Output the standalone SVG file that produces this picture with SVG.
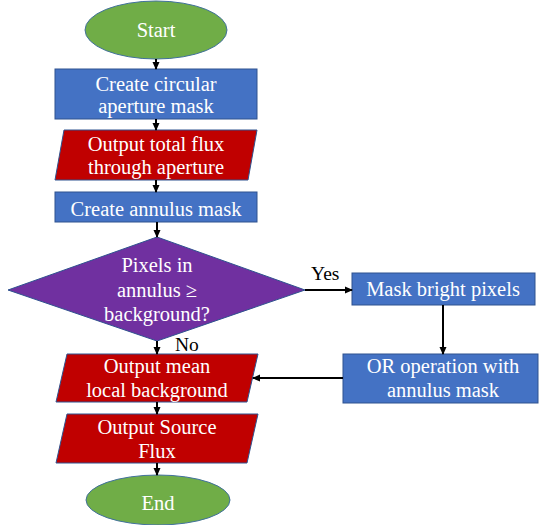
<svg xmlns="http://www.w3.org/2000/svg" width="539" height="525" viewBox="0 0 539 525">
<defs>
<marker id="ah" markerWidth="8" markerHeight="8" refX="7" refY="4" orient="auto" markerUnits="userSpaceOnUse">
<path d="M0,0.5 L8,4 L0,7.5 z" fill="#000"/>
</marker>
<style>
text{font-family:'Liberation Serif','Times New Roman',serif}
.t{fill:#fff;text-anchor:middle;font-size:20.5px}
.k{fill:#000;font-size:19.5px}
.g{fill:#70AD47;stroke:#41719C;stroke-width:1}
.b{fill:#4472C4;stroke:#2F528F;stroke-width:1}
.r{fill:#C00000;stroke:#2F528F;stroke-width:1}
.p{fill:#7030A0;stroke:#2F528F;stroke-width:1}
.c{stroke:#000;stroke-width:2;fill:none;marker-end:url(#ah)}
</style>
</defs>
<g id="start"><ellipse class="g" cx="156" cy="30" rx="71" ry="29"/><text class="t" x="156" y="37">Start</text></g>
<g id="circmask"><rect class="b" x="55" y="69" width="202" height="50"/><text class="t" x="156" y="91">Create circular</text><text class="t" x="156" y="113">aperture mask</text></g>
<g id="totalflux"><polygon class="r" points="64,130 257,130 248,180 55,180"/><text class="t" x="156" y="151">Output total flux</text><text class="t" x="156" y="174">through aperture</text></g>
<g id="annmask"><rect class="b" x="55" y="192" width="202" height="30"/><text class="t" x="156" y="216">Create annulus mask</text></g>
<g id="decision"><polygon class="p" points="157,237 305,290 157,341 8,290"/><text class="t" x="157" y="272">Pixels in</text><text class="t" x="157" y="297">annulus ≥</text><text class="t" x="157" y="321">background?</text></g>
<g id="bright"><rect class="b" x="352" y="273" width="183" height="32"/><text class="t" x="443" y="296">Mask bright pixels</text></g>
<g id="oroper"><rect class="b" x="343" y="354" width="195" height="49"/><text class="t" x="443" y="373">OR operation with</text><text class="t" x="443" y="397">annulus mask</text></g>
<g id="meanbg"><polygon class="r" points="67,354 258,354 247,402 56,402"/><text class="t" x="157" y="373">Output mean</text><text class="t" x="157" y="397">local background</text></g>
<g id="srcflux"><polygon class="r" points="67,414 258,414 247,463 56,463"/><text class="t" x="157" y="434">Output Source</text><text class="t" x="157" y="458">Flux</text></g>
<g id="end"><ellipse class="g" cx="158" cy="500" rx="72" ry="25"/><text class="t" x="158" y="510">End</text></g>
<g id="connectors">
<line class="c" x1="156" y1="59" x2="156" y2="69"/>
<line class="c" x1="156" y1="119" x2="156" y2="130"/>
<line class="c" x1="156" y1="180" x2="156" y2="192"/>
<line class="c" x1="157" y1="222" x2="157" y2="237"/>
<line class="c" x1="305" y1="290" x2="352" y2="290"/>
<line class="c" x1="443" y1="305" x2="443" y2="354"/>
<line class="c" x1="343" y1="378" x2="253" y2="378"/>
<line class="c" x1="157" y1="341" x2="157" y2="354"/>
<line class="c" x1="157" y1="402" x2="157" y2="414"/>
<line class="c" x1="157" y1="463" x2="157" y2="475"/>
<text class="k" x="311" y="280">Yes</text>
<text class="k" x="175" y="351">No</text>
</g>
</svg>
